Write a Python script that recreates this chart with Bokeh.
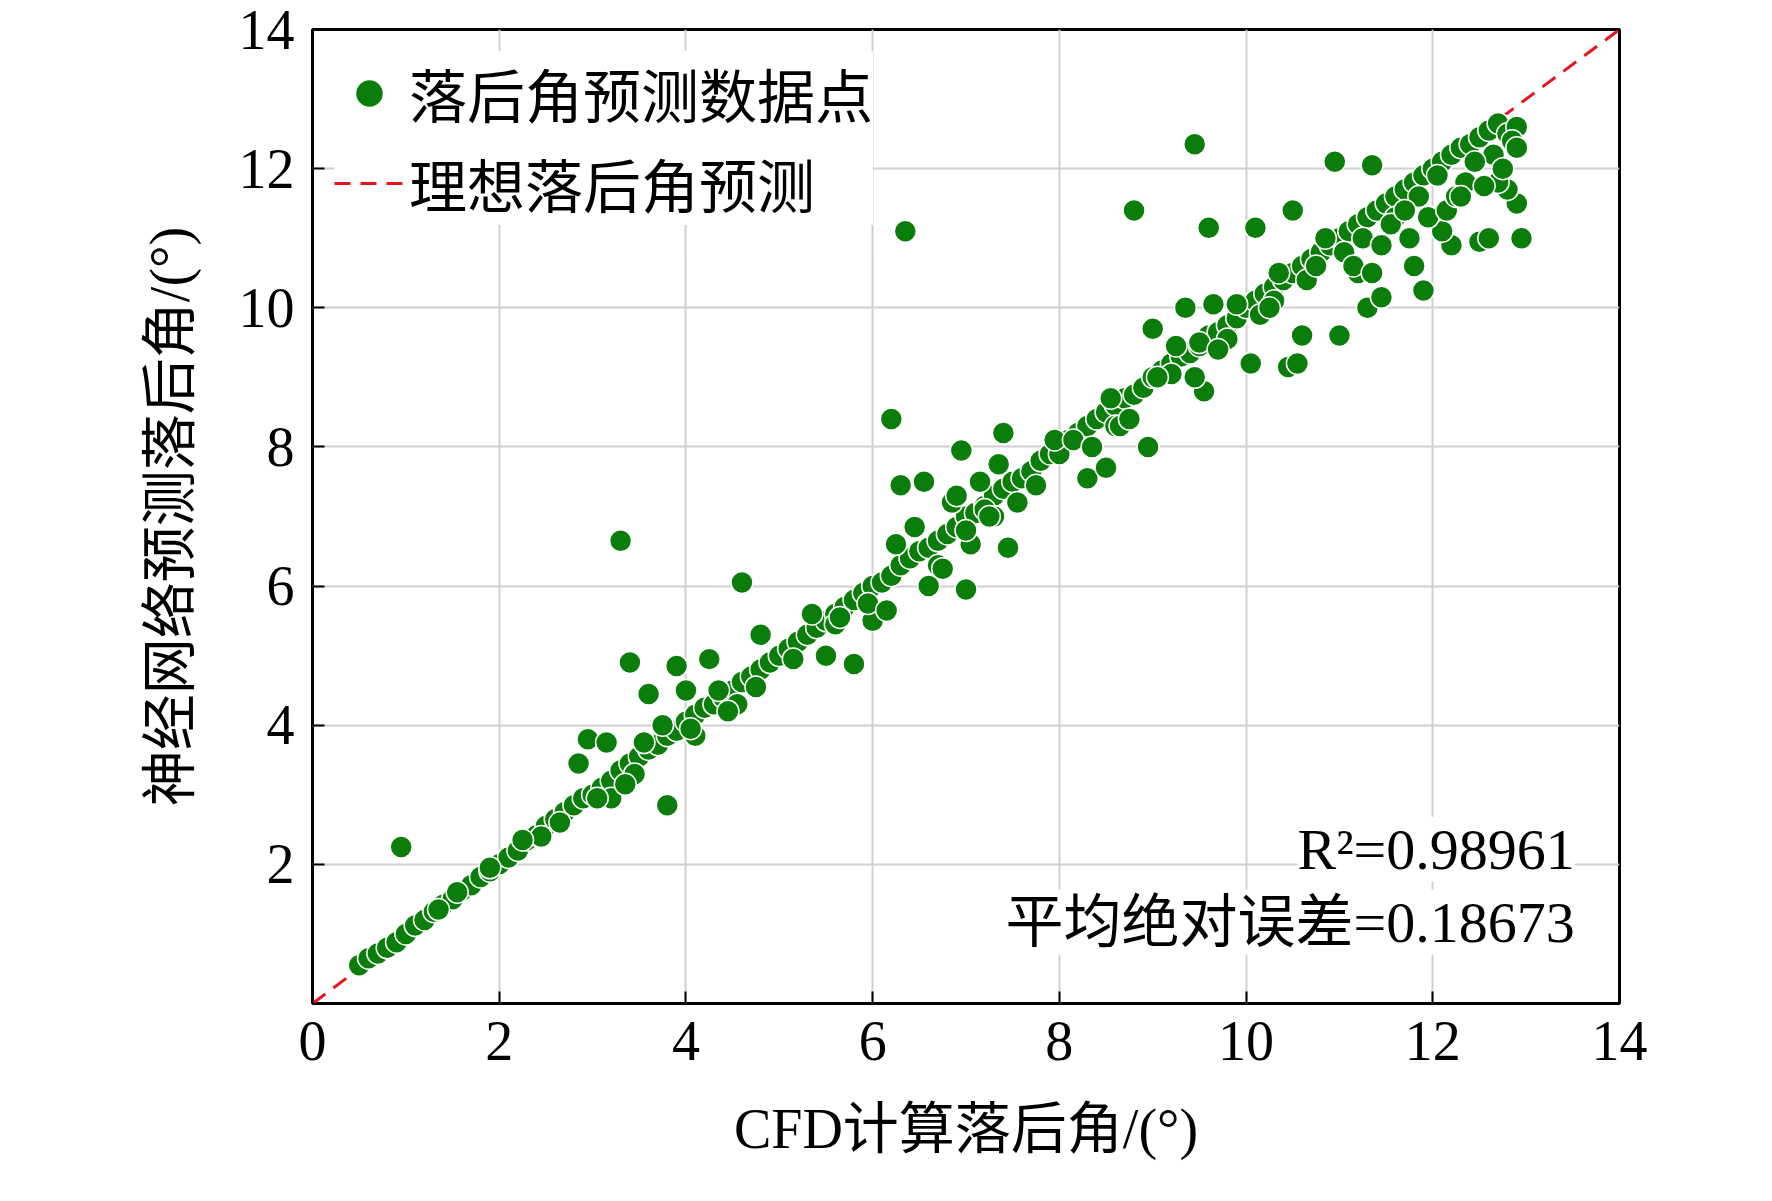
from bokeh.plotting import figure
from bokeh.models import ColumnDataSource, Legend, LegendItem, Label, FixedTicker
from bokeh.embed import file_html
from bokeh.resources import INLINE

cfd = [0.5,0.6,0.7,0.8,0.9,1.0,1.1,1.2,1.3,1.4,1.5,1.6,1.7,1.8,1.9,2.0,2.1,2.2,2.3,2.4,2.5,2.6,2.7,2.8,2.9,3.0,3.1,3.2,3.3,3.4,3.5,3.6,3.7,3.8,3.9,4.0,4.1,4.2,4.3,4.4,4.5,4.6,4.7,4.8,4.9,5.0,5.1,5.2,5.3,5.4,5.5,5.6,5.7,5.8,5.9,6.0,6.1,6.2,6.3,6.4,6.5,6.6,6.7,6.8,6.9,7.0,7.1,7.2,7.3,7.4,7.5,7.6,7.7,7.8,7.9,8.0,8.1,8.2,8.3,8.4,8.5,8.6,8.7,8.8,8.9,9.0,9.1,9.2,9.3,9.4,9.5,9.6,9.7,9.8,9.9,10.0,10.1,10.2,10.3,10.4,10.5,10.6,10.7,10.8,10.9,11.0,11.1,11.2,11.3,11.4,11.5,11.6,11.7,11.8,11.9,12.0,12.1,12.2,12.3,12.4,12.5,12.6,12.7,12.8,12.9,
       0.95,2.85,2.95,3.15,3.3,3.4,3.6,3.8,3.9,4.0,4.25,4.6,4.8,5.5,5.8,6.0,6.2,6.3,6.35,6.55,6.95,7.0,7.4,7.45,8.0,8.3,8.8,8.95,9.0,9.35,9.45,9.55,9.6,9.65,10.05,10.1,10.45,10.5,10.55,10.6,10.95,11.0,11.3,11.35,11.45,11.8,11.9,12.2,12.5,12.6,12.9,12.95,12.8,12.7,3.2,5.6,7.3,8.5,9.8,11.2,12.1,1.35,1.9,2.45,4.1,4.55,6.7,7.2,8.6,9.2,10.3,11.6,12.35,12.65,
       1.55,2.25,2.65,3.05,3.45,3.55,3.75,4.05,4.35,4.45,4.75,5.15,5.35,5.65,5.95,6.15,6.25,6.45,6.6,6.75,6.85,7.05,7.15,7.25,7.35,7.55,7.75,7.95,8.15,8.35,8.55,8.65,8.75,9.05,9.25,9.45,9.5,9.7,9.9,10.15,10.25,10.35,10.65,10.75,10.85,11.05,11.15,11.25,11.35,11.45,11.55,11.75,11.85,11.95,12.05,12.15,12.25,12.45,12.55,12.75,12.85,12.9,12.3,11.7,7.0,6.9,3.35]
pred = [0.55,0.65,0.72,0.8,0.88,1.0,1.12,1.2,1.32,1.42,1.5,1.62,1.7,1.82,1.9,2.0,2.1,2.2,2.35,2.42,2.55,2.65,2.75,2.85,2.95,3.0,3.1,3.2,3.35,3.45,3.55,3.65,3.72,3.85,3.92,4.05,4.15,4.25,4.3,4.4,4.5,4.62,4.7,4.8,4.9,5.0,5.1,5.2,5.3,5.4,5.5,5.6,5.7,5.8,5.9,6.0,6.05,6.15,6.3,6.4,6.5,6.55,6.65,6.75,6.85,7.0,7.05,7.15,7.3,7.4,7.5,7.55,7.65,7.8,7.9,8.0,8.1,8.2,8.3,8.4,8.5,8.6,8.7,8.75,8.85,9.0,9.1,9.2,9.3,9.35,9.45,9.6,9.65,9.75,9.85,10.0,10.1,10.2,10.3,10.4,10.5,10.6,10.7,10.8,10.9,11.0,11.1,11.2,11.3,11.4,11.5,11.6,11.7,11.8,11.9,12.0,12.1,12.2,12.3,12.35,12.45,12.55,12.65,12.5,12.6,
        2.25,3.45,3.8,3.75,6.65,4.9,4.45,2.85,4.85,4.5,4.95,6.05,5.3,5.0,4.88,5.5,8.4,7.45,11.1,7.5,7.95,5.95,8.2,6.55,7.9,7.55,11.4,8.0,9.7,10.0,12.35,8.8,11.15,10.05,9.2,11.15,9.15,11.4,9.2,9.6,12.1,9.6,10.0,12.05,10.15,10.6,10.25,10.9,10.95,11.0,11.5,11.0,11.7,11.8,2.95,5.45,7.0,7.7,9.55,10.5,11.1,1.35,1.95,2.4,3.85,4.3,6.3,7.1,8.3,9.05,10.1,11.3,11.8,12.2,
        1.6,2.35,2.6,2.95,3.3,3.75,4.0,3.95,4.5,4.2,4.55,4.95,5.6,5.55,5.75,5.65,6.6,6.85,6.0,6.25,7.2,6.6,7.5,7.0,7.75,7.2,7.45,8.1,8.1,8.0,8.7,8.3,8.4,9.0,9.45,9.0,9.5,9.4,10.05,9.9,10.0,10.5,10.4,10.6,11.0,10.8,10.6,11.0,10.5,10.9,11.2,11.0,11.6,11.3,11.9,11.4,11.6,12.1,11.75,12.0,12.4,12.3,11.6,11.4,6.8,7.3,3.15]

p = figure(width=1740, height=1180, output_backend="svg", toolbar_location=None,
           x_range=(0, 14), y_range=(0, 14), min_border_left=312, min_border_right=121,
           min_border_top=29, min_border_bottom=177)
FONT = "Liberation Serif, Noto Sans CJK SC"
p.outline_line_color = "black"
p.outline_line_width = 3
for ax in (p.xaxis[0], p.yaxis[0]):
    ax.ticker = FixedTicker(ticks=[0, 2, 4, 6, 8, 10, 12, 14])
    ax.major_label_text_font = FONT
    ax.major_label_text_font_size = "56px"
    ax.major_label_text_color = "black"
    ax.axis_label_text_font = FONT
    ax.axis_label_text_font_size = "56px"
    ax.axis_label_text_color = "black"
    ax.axis_label_text_font_style = "normal"
    ax.major_tick_in = 12
    ax.major_tick_out = 0
    ax.minor_tick_line_color = None
    ax.axis_line_color = None
    ax.major_tick_line_width = 2
    ax.major_label_standoff = 18
p.yaxis[0].ticker = FixedTicker(ticks=[2, 4, 6, 8, 10, 12, 14])
p.xaxis.axis_label = "CFD计算落后角/(°)"
p.yaxis.axis_label = "神经网络预测落后角/(°)"
p.xaxis.axis_label_standoff = 35
p.yaxis.axis_label_standoff = 35
p.grid.grid_line_color = "#d0d0d0"
p.grid.grid_line_width = 2

line = p.line([0, 14], [0, 14], line_color="#e8141c", line_width=3, line_dash="16 10")
src = ColumnDataSource(dict(x=cfd, y=pred))
sc = p.scatter("x", "y", source=src, size=22, fill_color="#0b7d0b", line_color="white", line_width=1.5)

leg = Legend(items=[LegendItem(label="落后角预测数据点", renderers=[sc]),
                    LegendItem(label="理想落后角预测", renderers=[line])],
             location="top_left", border_line_color=None, background_fill_alpha=1,
             label_text_font=FONT, label_text_font_size="58px", label_text_color="black",
             glyph_width=70, glyph_height=70, spacing=6, margin=22, padding=10)
p.add_layout(leg)

p.add_layout(Label(x=13.95, y=1.75, text="R²=0.98961", text_align="right", text_font=FONT,
                   text_font_size="58px", text_color="black", background_fill_color="white", x_offset=-40))
p.add_layout(Label(x=13.95, y=0.7, text="平均绝对误差=0.18673", text_align="right", text_font=FONT,
                   text_font_size="58px", text_color="black", background_fill_color="white", x_offset=-40))

open("out.html", "w").write(file_html(p, INLINE))
